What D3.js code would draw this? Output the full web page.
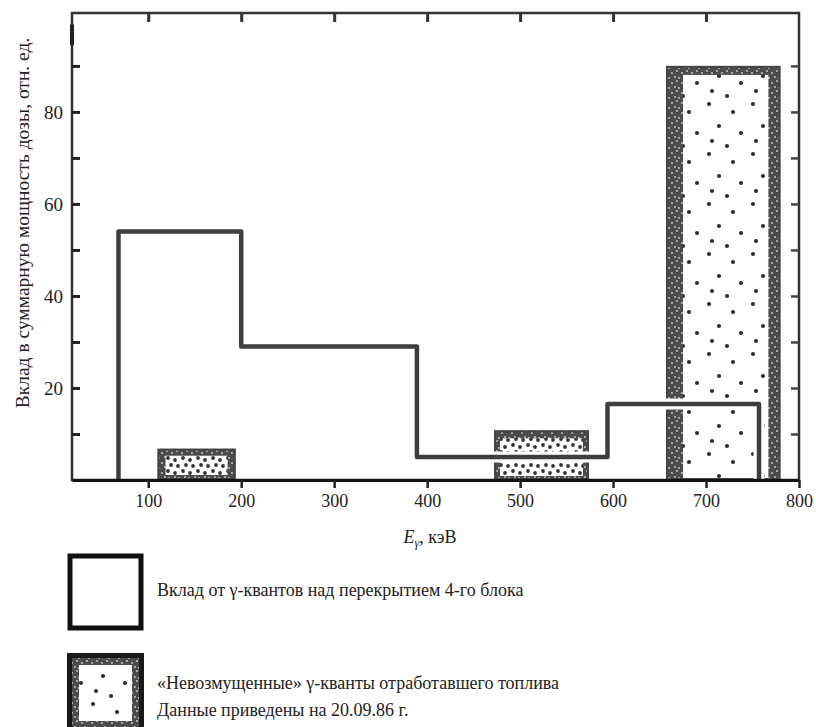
<!DOCTYPE html>
<html>
<head>
<meta charset="utf-8">
<script src="https://cdn.jsdelivr.net/npm/d3@7"></script>
<style>
  body { margin: 0; background: #fff; }
  text { font-family: "Liberation Serif", "Times New Roman", serif; fill: #222; }
</style>
</head>
<body>
<svg width="816" height="727"></svg>
<script>
// step histogram: contribution of gamma quanta above the 4th unit cover
var stepEdges = [68, 200, 389, 594, 757];
var stepValues = [54, 29, 5, 16.5];

// "undisturbed" gamma quanta of spent fuel (bars)
var fuelStart = [110, 472, 657];
var fuelEnd = [194, 574, 780];
var fuelValues = [6.8, 10.8, 90];

var xTicks = [100, 200, 300, 400, 500, 600, 700, 800];
var yTicks = [10, 20, 30, 40, 50, 60, 70, 80, 90];
var yLabels = [20, 40, 60, 80];

var legendLabels = [
  "Вклад от γ-квантов над перекрытием 4-го блока",
  "«Невозмущенные» γ-кванты отработавшего топлива",
  "Данные приведены на 20.09.86 г."
];

var svg = d3.select("svg");
var pL = 72, pR = 799, pT = 13, pB = 480;

var x = d3.scaleLinear().domain([18, 800]).range([pL, pR]);
var y = d3.scaleLinear().domain([0, 101.5]).range([pB, pT]);

// speckle textures
var defs = svg.append("defs");
function dotPattern(id, w, h, bg, dots, r, col) {
  var p = defs.append("pattern").attr("id", id)
    .attr("patternUnits", "userSpaceOnUse").attr("width", w).attr("height", h);
  p.append("rect").attr("width", w).attr("height", h).attr("fill", bg);
  dots.forEach(function(d) {
    p.append("circle").attr("cx", d[0]).attr("cy", d[1]).attr("r", r).attr("fill", col);
  });
}
dotPattern("sparse", 44, 50, "#fff", [[5, 4], [29, 12], [15, 26], [37, 33], [8, 41], [23, 46]], 2.1, "#2e2e2e");
dotPattern("mid", 15, 13, "#fff", [[3, 3], [10, 5], [6, 10], [13, 11]], 1.9, "#333");
dotPattern("heavy", 10, 10, "#4c4c4c", [[2, 3], [7, 1], [5, 7], [9, 8]], 0.9, "#d0d0d0");

function speckleBox(g, x0, y0, w, h, bl, br, bt, bb, inner, edge, ew) {
  g.append("rect").attr("x", x0).attr("y", y0).attr("width", w).attr("height", h)
    .attr("fill", "url(#heavy)");
  g.append("rect").attr("x", x0 + bl).attr("y", y0 + bt)
    .attr("width", Math.max(0, w - bl - br)).attr("height", Math.max(0, h - bt - bb))
    .attr("fill", "url(#" + inner + ")");
  g.append("rect").attr("x", x0 + ew / 2).attr("y", y0 + ew / 2)
    .attr("width", w - ew).attr("height", h - ew)
    .attr("fill", "none").attr("stroke", edge).attr("stroke-width", ew);
}

var bars = svg.append("g");
var bands = [[8, 8, 7, 5], [6, 6, 8, 4], [17, 12, 9, 0]];
var fills = ["mid", "mid", "sparse"];
fuelValues.forEach(function(v, i) {
  var x0 = x(fuelStart[i]), x1 = x(fuelEnd[i]), b = bands[i];
  speckleBox(bars, x0, y(v), x1 - x0, y(0) - y(v), b[0], b[1], b[2], b[3], fills[i], "#444", 2);
});

// step line points
var pts = [[stepEdges[0], 0]];
stepValues.forEach(function(v, i) {
  pts.push([stepEdges[i], v]);
  pts.push([stepEdges[i + 1], v]);
});
pts.push([stepEdges[stepEdges.length - 1], 0]);

var line = d3.line()
  .x(function(d) { return x(d[0]); })
  .y(function(d) { return y(d[1]); });

svg.append("path").datum(pts).attr("d", line)
  .attr("fill", "none").attr("stroke", "#fff").attr("stroke-width", 11);
svg.append("path").datum(pts).attr("d", line)
  .attr("fill", "none").attr("stroke", "#3e3e3e").attr("stroke-width", 4.5)
  .attr("stroke-linejoin", "round");

// frame
svg.append("rect").attr("x", pL).attr("y", pT)
  .attr("width", pR - pL).attr("height", pB - pT)
  .attr("fill", "none").attr("stroke", "#333").attr("stroke-width", 2.5);

// axes
var xAxis = svg.append("g").attr("transform", "translate(0," + pB + ")")
  .call(d3.axisBottom(x).tickValues(xTicks).tickSize(8).tickPadding(6).tickSizeOuter(0));
xAxis.select(".domain").attr("stroke", "#111").attr("stroke-width", 3);
xAxis.selectAll(".tick line").attr("stroke", "#222").attr("stroke-width", 2.5);
xAxis.selectAll("text").style("font-size", "18px").attr("fill", "#222");

var yAxis = svg.append("g").attr("transform", "translate(" + pL + ",0)")
  .call(d3.axisLeft(y).tickValues(yTicks).tickSize(-8).tickPadding(9).tickSizeOuter(0)
    .tickFormat(function(d) { return yLabels.indexOf(d) >= 0 ? d : ""; }));
yAxis.select(".domain").remove();
yAxis.selectAll(".tick line").attr("stroke", "#222").attr("stroke-width", 3);
yAxis.selectAll("text").style("font-size", "19px").attr("fill", "#222");

var topAxis = svg.append("g").attr("transform", "translate(0," + pT + ")")
  .call(d3.axisTop(x).tickValues(xTicks.slice(0, 7)).tickSize(-9).tickFormat(""));
topAxis.select(".domain").remove();
topAxis.selectAll(".tick line").attr("stroke", "#333").attr("stroke-width", 3);

var rightAxis = svg.append("g").attr("transform", "translate(" + pR + ",0)")
  .call(d3.axisRight(y).tickValues(yTicks).tickSize(-8).tickFormat(""));
rightAxis.select(".domain").remove();
rightAxis.selectAll(".tick line").attr("stroke", "#444").attr("stroke-width", 2.5);

// thick mark at top of left axis
svg.append("line").attr("x1", pL).attr("x2", pL).attr("y1", y(99)).attr("y2", y(94.5))
  .attr("stroke", "#222").attr("stroke-width", 4);

// axis titles
var xt = svg.append("text").attr("x", 430).attr("y", 543)
  .attr("text-anchor", "middle").style("font-size", "18px");
xt.append("tspan").style("font-style", "italic").text("E");
xt.append("tspan").style("font-style", "italic").style("font-size", "12px").attr("dy", 4).text("γ");
xt.append("tspan").attr("dy", -4).text(", кэВ");

svg.append("text")
  .attr("transform", "translate(29," + 223 + ") rotate(-90)")
  .attr("text-anchor", "middle").style("font-size", "19.5px")
  .text("Вклад в суммарную мощность дозы, отн. ед.");

// legend
var lg = svg.append("g");
lg.append("rect").attr("x", 70).attr("y", 556).attr("width", 71).attr("height", 72)
  .attr("fill", "#fff").attr("stroke", "#111").attr("stroke-width", 5);
lg.append("text").attr("x", 157).attr("y", 596).style("font-size", "18px").text(legendLabels[0]);

speckleBox(lg, 67, 653, 77, 80, 12, 12, 12, 12, "sparse", "#1a1a1a", 5);
lg.append("text").attr("x", 157).attr("y", 689).style("font-size", "18px").text(legendLabels[1]);
lg.append("text").attr("x", 157).attr("y", 716).style("font-size", "18px").text(legendLabels[2]);
</script>
</body>
</html>
